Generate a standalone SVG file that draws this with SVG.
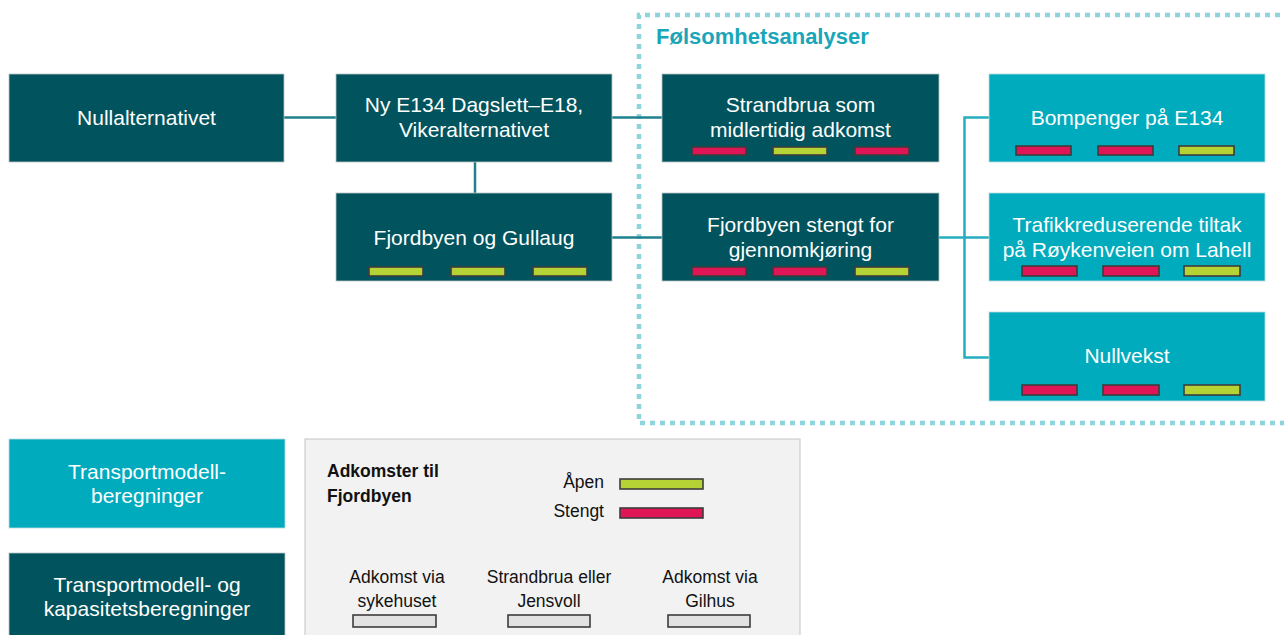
<svg xmlns="http://www.w3.org/2000/svg" width="1284" height="635" viewBox="0 0 1284 635">
<style>
  .dark { fill: #01545d; stroke: #b9c4c6; stroke-width: 0.8; }
  .light { fill: #00abbd; stroke: #b9dde2; stroke-width: 0.8; }
  .t { font-family: "Liberation Sans", Arial, sans-serif; font-size: 21px; fill: #ffffff; text-anchor: middle; }
  .lt { font-family: "Liberation Sans", Arial, sans-serif; font-size: 17.5px; fill: #111111; }
  .red { fill: #df1556; stroke: #3d3d3d; stroke-width: 1.6; }
  .grn { fill: #b5d335; stroke: #3d3d3d; stroke-width: 1.6; }
  .gry { fill: #e2e2e2; stroke: #3d3d3d; stroke-width: 1.6; }
  .c1 { stroke: #1e808c; stroke-width: 2.5; fill: none; }
  .c2 { stroke: #25adbf; stroke-width: 2.5; fill: none; }
</style>
<rect width="1284" height="635" fill="#ffffff"/>

<!-- sensitivity analysis frame -->
<g id="frame">
  <path d="M1290,15 H639 V423 H1290" fill="none" stroke="#8dd4dd" stroke-width="4.5" stroke-dasharray="5 5"/>
  <text x="656" y="44" font-family="Liberation Sans, Arial, sans-serif" font-size="22" font-weight="bold" fill="#1aa6b8">Følsomhetsanalyser</text>
</g>

<g id="connectors">
  <line class="c1" x1="284" y1="117.5" x2="336" y2="117.5"/>
  <line class="c1" x1="475" y1="162" x2="475" y2="193"/>
  <line class="c1" x1="612" y1="117.5" x2="662" y2="117.5"/>
  <line class="c1" x1="612" y1="237.5" x2="662" y2="237.5"/>
  <line class="c2" x1="939" y1="237.5" x2="989" y2="237.5"/>
  <path class="c2" d="M989,117.5 H964.5 V357.5 H989"/>
</g>

<g id="nullalternativet">
  <rect class="dark" x="9" y="74" width="275" height="88"/>
  <text class="t" x="146.5" y="125">Nullalternativet</text>
</g>

<g id="ny-e134">
  <rect class="dark" x="336" y="74" width="276" height="88"/>
  <text class="t" x="474" y="112">Ny E134 Dagslett–E18,</text>
  <text class="t" x="474" y="137">Vikeralternativet</text>
</g>

<g id="fjordbyen-gullaug">
  <rect class="dark" x="336" y="193" width="276" height="88"/>
  <text class="t" x="474" y="245">Fjordbyen og Gullaug</text>
  <rect class="grn" x="369" y="267" width="54" height="9"/>
  <rect class="grn" x="451" y="267" width="54" height="9"/>
  <rect class="grn" x="533" y="267" width="54" height="9"/>
</g>

<g id="strandbrua">
  <rect class="dark" x="662" y="74" width="277" height="88"/>
  <text class="t" x="800.5" y="112">Strandbrua som</text>
  <text class="t" x="800.5" y="137">midlertidig adkomst</text>
  <rect class="red" x="692" y="147" width="54" height="8"/>
  <rect class="grn" x="773" y="147" width="54" height="8"/>
  <rect class="red" x="855" y="147" width="54" height="8"/>
</g>

<g id="fjordbyen-stengt">
  <rect class="dark" x="662" y="193" width="277" height="88"/>
  <text class="t" x="800.5" y="232">Fjordbyen stengt for</text>
  <text class="t" x="800.5" y="257">gjennomkjøring</text>
  <rect class="red" x="692" y="267" width="54" height="9"/>
  <rect class="red" x="773" y="267" width="54" height="9"/>
  <rect class="grn" x="855" y="267" width="54" height="9"/>
</g>

<g id="bompenger">
  <rect class="light" x="989" y="74" width="276" height="88"/>
  <text class="t" x="1127" y="125">Bompenger på E134</text>
  <rect class="red" x="1016" y="146" width="55" height="9"/>
  <rect class="red" x="1098" y="146" width="55" height="9"/>
  <rect class="grn" x="1179" y="146" width="55" height="9"/>
</g>

<g id="trafikkreduserende">
  <rect class="light" x="989" y="193" width="276" height="88"/>
  <text class="t" x="1127" y="232">Trafikkreduserende tiltak</text>
  <text class="t" x="1127" y="257">på Røykenveien om Lahell</text>
  <rect class="red" x="1022" y="266" width="55" height="10"/>
  <rect class="red" x="1103" y="266" width="56" height="10"/>
  <rect class="grn" x="1184" y="266" width="56" height="10"/>
</g>

<g id="nullvekst">
  <rect class="light" x="989" y="312" width="276" height="89"/>
  <text class="t" x="1127" y="363">Nullvekst</text>
  <rect class="red" x="1022" y="385" width="55" height="10"/>
  <rect class="red" x="1103" y="385" width="56" height="10"/>
  <rect class="grn" x="1184" y="385" width="56" height="10"/>
</g>

<g id="legend-transportmodell">
  <rect class="light" x="9" y="439" width="276" height="89"/>
  <text class="t" x="147" y="479">Transportmodell-</text>
  <text class="t" x="147" y="503">beregninger</text>
</g>

<g id="legend-kapasitet">
  <rect class="dark" x="9" y="553" width="276" height="90"/>
  <text class="t" x="147" y="592">Transportmodell- og</text>
  <text class="t" x="147" y="616">kapasitetsberegninger</text>
</g>

<g id="legend-adkomster">
  <rect x="305" y="439" width="495" height="200" fill="#f2f2f2" stroke="#c4c4c4" stroke-width="1"/>
  <text class="lt" x="327" y="477" font-weight="bold" font-size="18">Adkomster til</text>
  <text class="lt" x="327" y="502" font-weight="bold" font-size="18">Fjordbyen</text>
  <text class="lt" x="604" y="488" text-anchor="end">Åpen</text>
  <text class="lt" x="604" y="517" text-anchor="end">Stengt</text>
  <rect class="grn" x="620" y="479" width="83" height="10"/>
  <rect class="red" x="620" y="508" width="83" height="10"/>
  <text class="lt" x="397" y="583" text-anchor="middle">Adkomst via</text>
  <text class="lt" x="397" y="607" text-anchor="middle">sykehuset</text>
  <text class="lt" x="549" y="583" text-anchor="middle">Strandbrua eller</text>
  <text class="lt" x="549" y="607" text-anchor="middle">Jensvoll</text>
  <text class="lt" x="710" y="583" text-anchor="middle">Adkomst via</text>
  <text class="lt" x="710" y="607" text-anchor="middle">Gilhus</text>
  <rect class="gry" x="353" y="615" width="83" height="12"/>
  <rect class="gry" x="508" y="615" width="82" height="12"/>
  <rect class="gry" x="668" y="615" width="82" height="12"/>
</g>
</svg>
